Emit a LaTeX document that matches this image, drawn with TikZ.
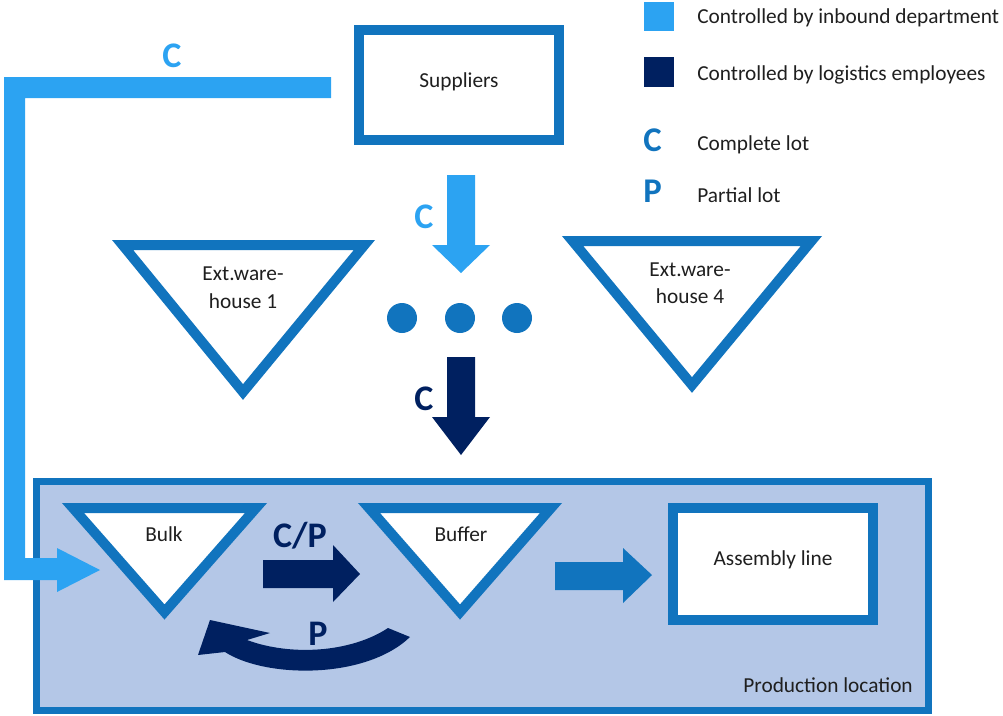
\documentclass[tikz,border=0pt]{standalone}
\usepackage{fontspec}
\setmainfont{Carlito}
\definecolor{lightblue}{RGB}{44,163,242}
\definecolor{midblue}{RGB}{17,116,190}
\definecolor{navy}{RGB}{0,32,96}
\definecolor{prodfill}{RGB}{180,199,231}
\begin{document}
\begin{tikzpicture}[x=0.75pt,y=-0.75pt,line join=miter,
  lbl/.style={font=\fontsize{16}{19}\selectfont,text=black!88,inner sep=0pt,anchor=base},
  legtext/.style={lbl,anchor=base west},
  bigletter/.style={font=\fontsize{27}{31}\selectfont\bfseries,inner sep=0pt,anchor=base},
  legletter/.style={font=\fontsize{26}{30}\selectfont\bfseries,inner sep=0pt,anchor=base west,text=midblue},
  boxnode/.style={draw=midblue,line width=7.5pt,fill=white,rectangle,inner sep=0pt},
  store/.style={draw=midblue,line width=7.5pt,fill=white,line join=miter},
  dot/.style={circle,fill=midblue,minimum size=22.5pt,inner sep=0pt}]
\useasboundingbox (0,0) rectangle (1003,715);

% production location frame
\node[draw=midblue,line width=5.25pt,fill=prodfill,rectangle,inner sep=0pt,
      minimum width=669pt,minimum height=171.75pt] (prod) at (482.5,596) {};
\node[lbl,anchor=base east] (prodlbl) at (913,692) {Production location};

% legend
\fill[lightblue] (644,2) rectangle (674,31);
\fill[navy] (644,57) rectangle (674,87);
\node[legtext] (leg1) at (697,23) {Controlled by inbound department};
\node[legtext] (leg2) at (697,80) {Controlled by logistics employees};
\node[legletter] (legC) at (643,151) {C};
\node[legtext] (leg3) at (697,150) {Complete lot};
\node[legletter] (legP) at (643,202) {P};
\node[legtext] (leg4) at (697,202) {Partial lot};

% suppliers
\node[boxnode,minimum width=150pt,minimum height=82.5pt] (suppliers) at (459,85) {};
\node[lbl] (supplbl) at (459,87) {Suppliers};

% external warehouses
\draw[store] (122.6,245) -- (364.4,245) -- (243,392) -- cycle;
\node[lbl] (ext1a) at (243,280) {Ext.ware-};
\node[lbl] (ext1b) at (243,308) {house 1};
\draw[store] (572.6,241) -- (811.4,241) -- (692,385) -- cycle;
\node[lbl] (ext4a) at (690,276) {Ext.ware-};
\node[lbl] (ext4b) at (690,303) {house 4};

% dots between the warehouses
\node[dot] (d1) at (402,318) {};
\node[dot] (d2) at (460,318) {};
\node[dot] (d3) at (517,318) {};

% inbound flow into the warehouses
\fill[lightblue] (447,175) -- (475,175) -- (475,245) -- (490,245) -- (461,273)
  -- (432,245) -- (447,245) -- cycle;
\node[bigletter,text=lightblue] (cin) at (424,228) {C};

% flow from the warehouses to production
\fill[navy] (447,357) -- (475,357) -- (475,417) -- (490,417) -- (461,455)
  -- (432,417) -- (447,417) -- cycle;
\node[bigletter,text=navy] (cout) at (424,410) {C};

% direct delivery from suppliers to bulk
\fill[lightblue] (331,77) -- (4,77) -- (4,580) -- (57,580) -- (57,592) -- (100,570)
  -- (57,548) -- (57,558) -- (25,558) -- (25,98) -- (331,98) -- cycle;
\node[bigletter,text=lightblue] (cdirect) at (172,67) {C};

% bulk and buffer stores
\draw[store] (73,508) -- (256,508) -- (164.5,612) -- cycle;
\node[lbl] (bulk) at (164,541) {Bulk};
\draw[store] (369,508) -- (551,508) -- (460,612) -- cycle;
\node[lbl] (buffer) at (461,541) {Buffer};

% bulk -> buffer
\fill[navy] (263,560) -- (333,560) -- (333,545) -- (360,574) -- (333,602)
  -- (333,588) -- (263,588) -- cycle;
\node[bigletter,text=navy] (cp) at (300,547) {C/P};

% buffer -> bulk (partial lots), curved band with a one-sided head
\fill[navy] (410,637) .. controls (365,680) and (265,678) .. (225,652)
  -- (198,655) -- (210,620) -- (270,633) -- (247,640)
  .. controls (290,656) and (350,653) .. (388,628) -- cycle;
\node[bigletter,text=navy] (pback) at (318,645) {P};

% buffer -> assembly line
\fill[midblue] (555,562) -- (623,562) -- (623,548) -- (652,575) -- (623,603)
  -- (623,590) -- (555,590) -- cycle;

% assembly line
\node[boxnode,minimum width=150pt,minimum height=84pt] (assembly) at (773,564) {};
\node[lbl] (asmlbl) at (773,565) {Assembly line};
\end{tikzpicture}
\end{document}
